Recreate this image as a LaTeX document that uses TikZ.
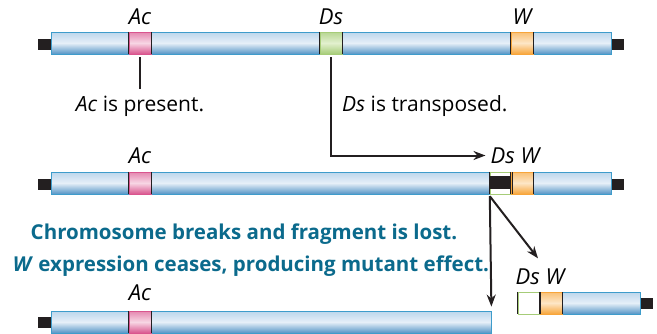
\documentclass[tikz,border=0pt]{standalone}
\usepackage{fontspec}
\setmainfont{Open Sans}
\usetikzlibrary{arrows.meta,positioning}
\definecolor{cromborde}{HTML}{3E9CCB}
\definecolor{cromarriba}{HTML}{BCD6EC}
\definecolor{cromluz}{HTML}{E6EFF8}
\definecolor{cromabajo}{HTML}{5595C6}
\definecolor{rosa}{HTML}{D9558E}
\definecolor{rosaluz}{HTML}{F7D6E4}
\definecolor{verde}{HTML}{A6CC78}
\definecolor{verdeluz}{HTML}{E2F0CE}
\definecolor{naranja}{HTML}{F7A53A}
\definecolor{naranjaluz}{HTML}{FDE6C6}
\definecolor{negro}{HTML}{231F20}
\definecolor{notaazul}{HTML}{0B6A8C}
\begin{document}
\begin{tikzpicture}[x=1pt, y=-1pt,
  crom/.style={draw=cromborde, line width=0.8pt, top color=cromarriba, bottom color=cromabajo, middle color=cromluz, minimum height=22pt, inner sep=0pt},
  banda/.style={minimum width=22pt, minimum height=22pt, inner sep=0pt},
  tapa/.style={fill=negro, minimum width=13pt, minimum height=11pt, inner sep=0pt},
  lado/.style={draw=negro, line width=0.9pt},
  etiq/.style={font=\fontsize{22}{22}\selectfont\itshape, inner sep=0pt},
  texto/.style={font=\fontsize{21}{21}\selectfont, inner sep=0pt},
  nota/.style={font=\fontsize{20.5}{20.5}\selectfont\bfseries, text=notaazul, inner sep=0pt},
  linea/.style={draw=negro, line width=2pt},
  flecha/.style={linea, -{Stealth[length=12pt,width=9pt]}}]
  \useasboundingbox (0,0) rectangle (657,333);
  % primer cromosoma
  \node[tapa] (t1a) at (44.5,44) {};
  \node[tapa] (t1b) at (617,44) {};
  \node[crom, minimum width=560pt] (c1) at (331,43) {};
  \node[banda, draw=rosa, top color=rosa!70, bottom color=rosa, middle color=rosaluz] (ac1) at (140,43) {};
  \node[banda, draw=verde, top color=verde!80, bottom color=verde, middle color=verdeluz] (ds1) at (331,43) {};
  \node[banda, draw=naranja, top color=naranja!70, bottom color=naranja, middle color=naranjaluz] (w1) at (522,43) {};
  \node[etiq] (lac1) at (140,17) {Ac};
  \node[etiq] (lds1) at (331,17) {Ds};
  \node[etiq] (lw1) at (522,17) {W};
  % segundo cromosoma
  \node[tapa] (t2a) at (44.5,184) {};
  \node[tapa] (t2b) at (617,184) {};
  \node[crom, minimum width=560pt] (c2) at (331,183) {};
  \node[banda, draw=rosa, top color=rosa!70, bottom color=rosa, middle color=rosaluz] (ac2) at (140,183) {};
  \node[banda, draw=verde, fill=white] (ds2) at (501,183) {};
  \fill[negro] ([yshift=-4pt]ds2.north west) rectangle ([yshift=5pt]ds2.south east);
  \node[banda, draw=naranja, top color=naranja!70, bottom color=naranja, middle color=naranjaluz] (w2) at (522,183) {};
  \node[etiq] (lac2) at (140,155.5) {Ac};
  \node[etiq] (ldsw2) at (515,155.5) {Ds W};
  % tercer cromosoma y fragmento
  \node[tapa] (t3a) at (44.5,322) {};
  \node[crom, minimum width=440pt] (c3) at (271,322) {};
  \node[banda, draw=rosa, top color=rosa!70, bottom color=rosa, middle color=rosaluz] (ac3) at (140,322) {};
  \node[etiq] (lac3) at (140,293) {Ac};
  \node[tapa] (t4) at (646,303) {};
  \node[crom, minimum width=122pt] (c4) at (579,303) {};
  \node[banda, draw=verde, fill=white] (ds4) at (529,303) {};
  \node[banda, draw=naranja, top color=naranja!70, bottom color=naranja, middle color=naranjaluz] (w4) at (551,303) {};
  \node[etiq] (ldsw4) at (540,276.5) {Ds W};
  % bordes oscuros de las bandas
  \foreach \b in {ac1,ds1,w1,ac2,ds2,w2,ac3,ds4,w4} {
    \draw[lado] (\b.north west) -- (\b.south west) (\b.north east) -- (\b.south east);
  }
  % textos
  \node[texto] (pres) at (140,106) {\textit{Ac} is present.};
  \node[texto, anchor=west] (trans) at (342,106) {\textit{Ds} is transposed.};
  \node[nota] (nota1) at (244,234) {Chromosome breaks and fragment is lost.};
  \node[nota] (nota2) at (251,266) {\textit{W} expression ceases, producing mutant effect.};
  % conectores
  \coordinate (rotura) at ([yshift=-2pt]ds2.south west);
  \draw[linea] ([yshift=-3pt]ac1.south) -- ([yshift=7pt]pres.north);
  \draw[flecha] ([yshift=-3pt]ds1.south) |- ([xshift=-5pt]ldsw2.west);
  \draw[flecha] (rotura) -- ([yshift=4pt]c3.north east);
  \draw[flecha] (rotura) -- ([xshift=-2pt,yshift=10pt]ldsw4.north);
\end{tikzpicture}
\end{document}
